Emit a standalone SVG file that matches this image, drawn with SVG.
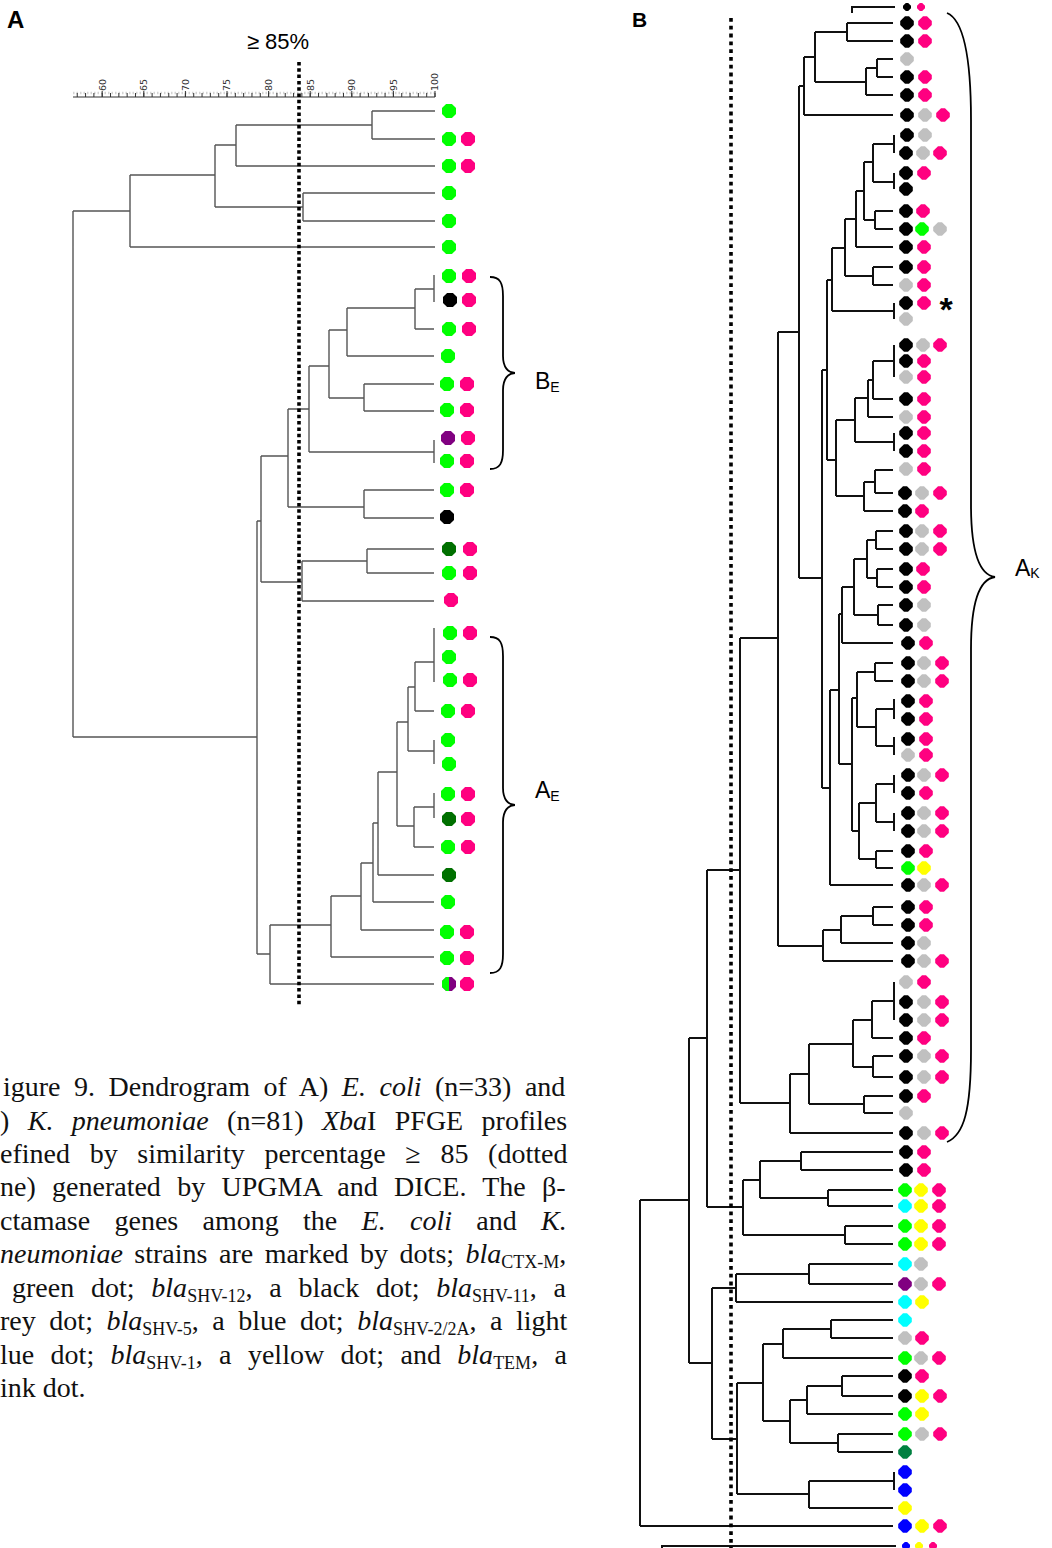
<svg xmlns="http://www.w3.org/2000/svg" xmlns:xlink="http://www.w3.org/1999/xlink" width="1052" height="1548" viewBox="0 0 1052 1548">
<style>
.ta{fill:none;stroke:#555;stroke-width:1.4}
.tb{fill:none;stroke:#111;stroke-width:2}
.dot{fill:none;stroke:#000;stroke-width:3.6}
.br{fill:none;stroke:#000;stroke-width:1.8}
.g{fill:#00ff00}.p{fill:#ff0080}.k{fill:#000}.u{fill:#800080}.d{fill:#007000}
.y{fill:#ffff00}.c{fill:#00ffff}.b{fill:#0000ff}.s{fill:#c0c0c0}.t{fill:#008040}
.lab{font-family:"Liberation Sans",Arial,sans-serif;fill:#000}
.sc{font-family:"DejaVu Sans","Liberation Sans",sans-serif;font-size:9.5px;fill:#333}
.cap{font-family:"Liberation Serif","Times New Roman",serif;font-size:28px;fill:#111}
</style>
<defs>
<polygon id="oa" points="-2.9,-7 2.9,-7 7,-2.9 7,2.9 2.9,7 -2.9,7 -7,2.9 -7,-2.9"/>
<polygon id="ob" points="-2,-6.8 2,-6.8 6.8,-2 6.8,2 2,6.8 -2,6.8 -6.8,2 -6.8,-2"/>
<polygon id="os" points="-1.2,-4 1.2,-4 4,-1.2 4,1.2 1.2,4 -1.2,4 -4,1.2 -4,-1.2"/>
<clipPath id="half" clipPathUnits="userSpaceOnUse"><rect x="440" y="975" width="9" height="18"/></clipPath>
</defs>
<rect width="1052" height="1548" fill="#fff"/>

<!-- Panel labels -->
<text class="lab" x="7" y="28" font-size="24" font-weight="bold">A</text>
<text class="lab" x="632" y="27" font-size="21" font-weight="bold">B</text>
<text class="lab" x="278" y="49" font-size="22" text-anchor="middle">≥ 85%</text>

<!-- Scale ruler A -->
<g id="ruler">
<line x1="73" y1="93" x2="435" y2="93" stroke="#d4d4d4" stroke-width="2.5" stroke-dasharray="1.5 2"/>
<line x1="73" y1="97" x2="435" y2="97" stroke="#333" stroke-width="1.2"/>
<line x1="435.5" y1="95" x2="73" y2="95" stroke="#333" stroke-width="4" stroke-dasharray="1 7.32"/>
<line x1="435.5" y1="94" x2="73" y2="94" stroke="#333" stroke-width="6" stroke-dasharray="1 40.6"/>
<text class="sc" transform="translate(105.5,91) rotate(-90)">60</text>
<text class="sc" transform="translate(147,91) rotate(-90)">65</text>
<text class="sc" transform="translate(188.5,91) rotate(-90)">70</text>
<text class="sc" transform="translate(230,91) rotate(-90)">75</text>
<text class="sc" transform="translate(272,91) rotate(-90)">80</text>
<text class="sc" transform="translate(313.5,91) rotate(-90)">85</text>
<text class="sc" transform="translate(355,91) rotate(-90)">90</text>
<text class="sc" transform="translate(396.5,91) rotate(-90)">95</text>
<text class="sc" transform="translate(438,91) rotate(-90)">100</text>
</g>

<!-- Connectors -->
<g id="connectors">
<path class="ta" d="M372,111V139M372,111H435M372,139H435
M236,125V166M236,125H372M236,166H435
M215,145V207M215,145H236M215,207H303
M303,193V221M303,193H435M303,221H435
M130,175V247M130,175H215M130,247H435
M73,211V737M73,211H130M73,737H257
M434,275V302
M415,289V329M415,289H434M415,329H434
M347,308V356M347,308H415M347,356H434
M364,384V411M364,384H434M364,411H434
M329,330V398M329,330H347M329,398H364
M434,440V463
M309,366V452M309,366H329M309,452H434
M288,409V507M288,409H309M288,507H364
M364,490V518M364,490H434M364,518H434
M261,456V582M261,456H288M261,582H302
M367,549V573M367,549H434M367,573H434
M302,561V601M302,561H367M302,601H434
M257,521V954M257,521H261M257,954H270
M270,925V984M270,984H434
M331,896V957M270,925H331M331,957H434
M361,863V930M331,896H361M361,930H434
M373,823V902M361,863H373M373,902H434
M378,772V875M373,823H378M378,875H434
M397,722V826M378,772H397
M414,807V847M397,826H414M414,847H434
M434,793V818M414,807H434
M408,687V751M397,722H408
M434,740V764M408,751H434
M415,662V711M408,687H415M415,711H434
M434,628V682M415,662H434"/>
<path class="tb" d="M852,13V7H895
M847,23V41M847,23H893M847,41H893
M877,59V77M877,59H893M877,77H893
M866,68V95M866,68H877M866,95H893
M815,32V82M815,32H847M815,82H866
M804,57V115M804,57H815M804,115H893
M799,86V578M799,86H804M799,578H822
M894,135V153M894,173V189
M873,144V182M873,144H894M873,182H894
M875,211V229M875,211H893M875,229H893
M864,162V220M864,162H873M864,220H875
M856,191V247M856,191H864M856,247H893
M873,267V285M873,267H893M873,285H893
M845,219V276M845,219H856M845,276H873
M894,303V319
M832,248V311M832,248H845M832,311H894
M827,280V460M827,280H832M827,460H836
M894,345V377
M873,361V399M873,361H894M873,399H893
M868,380V417M868,380H873M868,417H893
M894,433V451
M855,398V442M855,398H868M855,442H894
M875,470V493M875,470H893M875,493H893
M864,482V511M864,482H875M864,511H893
M836,420V496M836,420H855M836,496H864
M822,370V788M822,370H827M822,788H830
M876,531V549M876,531H893M876,549H893
M877,569V587M877,569H893M877,587H893
M867,540V578M867,540H876M867,578H877
M878,605V625M878,605H893M878,625H893
M854,559V615M854,559H867M854,615H878
M842,587V643M842,587H854M842,643H893
M839,614V764M839,614H842M839,764H852
M875,663V681M875,663H893M875,681H893
M894,699V719M894,737V755
M876,709V746M876,709H894M876,746H894
M857,672V727M857,672H875M857,727H876
M894,775V793M894,813V831
M876,784V822M876,784H894M876,822H894
M876,851V868M876,851H893M876,868H893
M859,803V859M859,803H876M859,859H876
M852,698V831M852,698H857M852,831H859
M830,690V885M830,690H839M830,885H893
M778,332V946M778,332H799M778,946H823
M873,907V925M873,907H893M873,925H893
M841,916V943M841,916H873M841,943H893
M823,930V961M823,930H841M823,961H893
M740,638V1103M740,638H778M740,1103H790
M894,982V1020
M872,1001V1038M872,1001H894M872,1038H893
M873,1056V1077M873,1056H893M873,1077H893
M853,1020V1067M853,1020H872M853,1067H873
M864,1096V1113M864,1096H893M864,1113H893
M809,1044V1104M809,1044H853M809,1104H864
M790,1074V1133M790,1074H809M790,1133H893
M707,870V1207M707,870H740M707,1207H743
M801,1152V1170M801,1152H893M801,1170H893
M828,1190V1206M828,1190H893M828,1206H893
M760,1161V1198M760,1161H801M760,1198H828
M845,1226V1244M845,1226H893M845,1244H893
M743,1180V1235M743,1180H760M743,1235H845
M689,1038V1363M689,1038H707M689,1363H712
M640,1200V1526M640,1200H689M640,1526H893
M809,1264V1284M809,1264H893M809,1284H893
M736,1274V1302M736,1274H809M736,1302H893
M712,1288V1439M712,1288H736M712,1439H737
M831,1320V1338M831,1320H893M831,1338H893
M783,1329V1358M783,1329H831M783,1358H893
M842,1376V1396M842,1376H893M842,1396H893
M807,1386V1414M807,1386H842M807,1414H893
M838,1434V1452M838,1434H893M838,1452H893
M790,1400V1443M790,1400H807M790,1443H838
M763,1344V1421M763,1344H783M763,1421H790
M894,1472V1490
M809,1481V1508M809,1481H894M809,1508H893
M737,1383V1494M737,1383H763M737,1494H809
M662,1548V1546H896"/>
<line class="dot" x1="299" y1="62" x2="299" y2="1007" stroke-dasharray="3.5 2.8"/>
<line class="dot" x1="731" y1="18" x2="731" y2="1548" stroke-dasharray="3.8 4"/>
</g>

<!-- Brackets and cluster labels -->
<g id="cluster-BE">
<path class="br" d="M490,277C500,277 503,283 503,296L503,356C503,367 508,373 515,373C508,373 503,379 503,390L503,450C503,463 500,469 490,469"/>
<text class="lab" x="535" y="389" font-size="23">B<tspan font-size="14" dy="3">E</tspan></text>
</g>
<g id="cluster-AE">
<path class="br" d="M490,637C500,637 503,643 503,656L503,788C503,799 508,805 515,805C508,805 503,811 503,822L503,954C503,967 500,973 490,973"/>
<text class="lab" x="535" y="798" font-size="23">A<tspan font-size="14" dy="3">E</tspan></text>
</g>
<g id="cluster-AK">
<path class="br" d="M947,13C964,20 971,60 971,120L971,505C971,552 980,575 995,577C980,579 971,602 971,649L971,1050C971,1110 964,1135 947,1142"/>
<text class="lab" x="1015" y="576" font-size="23">A<tspan font-size="14" dy="2">K</tspan></text>
</g>

<!-- Panel A leaves -->
<g id="a1"><use href="#oa" x="449" y="111" class="g"/></g>
<g id="a2"><use href="#oa" x="449" y="139" class="g"/><use href="#oa" x="468" y="139" class="p"/></g>
<g id="a3"><use href="#oa" x="449" y="166" class="g"/><use href="#oa" x="468" y="166" class="p"/></g>
<g id="a4"><use href="#oa" x="449" y="193" class="g"/></g>
<g id="a5"><use href="#oa" x="449" y="221" class="g"/></g>
<g id="a6"><use href="#oa" x="449" y="247" class="g"/></g>
<g id="a7"><use href="#oa" x="449" y="276" class="g"/><use href="#oa" x="469" y="276" class="p"/></g>
<g id="a8"><use href="#oa" x="450" y="300" class="k"/><use href="#oa" x="469" y="300" class="p"/></g>
<g id="a9"><use href="#oa" x="449" y="329" class="g"/><use href="#oa" x="469" y="329" class="p"/></g>
<g id="a10"><use href="#oa" x="448" y="356" class="g"/></g>
<g id="a11"><use href="#oa" x="447" y="384" class="g"/><use href="#oa" x="467" y="384" class="p"/></g>
<g id="a12"><use href="#oa" x="447" y="410" class="g"/><use href="#oa" x="467" y="410" class="p"/></g>
<g id="a13"><use href="#oa" x="448" y="438" class="u"/><use href="#oa" x="468" y="438" class="p"/></g>
<g id="a14"><use href="#oa" x="447" y="461" class="g"/><use href="#oa" x="467" y="461" class="p"/></g>
<g id="a15"><use href="#oa" x="447" y="490" class="g"/><use href="#oa" x="467" y="490" class="p"/></g>
<g id="a16"><use href="#oa" x="447" y="517" class="k"/></g>
<g id="a17"><use href="#oa" x="449" y="549" class="d"/><use href="#oa" x="470" y="549" class="p"/></g>
<g id="a18"><use href="#oa" x="449" y="573" class="g"/><use href="#oa" x="470" y="573" class="p"/></g>
<g id="a19"><use href="#oa" x="451" y="600" class="p"/></g>
<g id="a20"><use href="#oa" x="450" y="633" class="g"/><use href="#oa" x="470" y="633" class="p"/></g>
<g id="a21"><use href="#oa" x="449" y="657" class="g"/></g>
<g id="a22"><use href="#oa" x="450" y="680" class="g"/><use href="#oa" x="470" y="680" class="p"/></g>
<g id="a23"><use href="#oa" x="448" y="711" class="g"/><use href="#oa" x="468" y="711" class="p"/></g>
<g id="a24"><use href="#oa" x="448" y="740" class="g"/></g>
<g id="a25"><use href="#oa" x="449" y="764" class="g"/></g>
<g id="a26"><use href="#oa" x="448" y="794" class="g"/><use href="#oa" x="468" y="794" class="p"/></g>
<g id="a27"><use href="#oa" x="449" y="819" class="d"/><use href="#oa" x="468" y="819" class="p"/></g>
<g id="a28"><use href="#oa" x="448" y="847" class="g"/><use href="#oa" x="468" y="847" class="p"/></g>
<g id="a29"><use href="#oa" x="449" y="875" class="d"/></g>
<g id="a30"><use href="#oa" x="448" y="902" class="g"/></g>
<g id="a31"><use href="#oa" x="447" y="932" class="g"/><use href="#oa" x="467" y="932" class="p"/></g>
<g id="a32"><use href="#oa" x="447" y="958" class="g"/><use href="#oa" x="467" y="958" class="p"/></g>
<g id="a33"><use href="#oa" x="449" y="984" class="u"/><g clip-path="url(#half)"><use href="#oa" x="449" y="984" class="g"/></g><use href="#oa" x="467" y="984" class="p"/></g>

<!-- Panel B leaves -->
<g id="b1"><use href="#os" x="907" y="7" class="k"/><use href="#os" x="921" y="7" class="p"/></g>
<g id="b2"><use href="#ob" x="907" y="23" class="k"/><use href="#ob" x="925" y="23" class="p"/></g>
<g id="b3"><use href="#ob" x="907" y="41" class="k"/><use href="#ob" x="925" y="41" class="p"/></g>
<g id="b4"><use href="#ob" x="907" y="59" class="s"/></g>
<g id="b5"><use href="#ob" x="907" y="77" class="k"/><use href="#ob" x="925" y="77" class="p"/></g>
<g id="b6"><use href="#ob" x="907" y="95" class="k"/><use href="#ob" x="925" y="95" class="p"/></g>
<g id="b7"><use href="#ob" x="907" y="115" class="k"/><use href="#ob" x="925" y="115" class="s"/><use href="#ob" x="943" y="115" class="p"/></g>
<g id="b8"><use href="#ob" x="907" y="135" class="k"/><use href="#ob" x="925" y="135" class="s"/></g>
<g id="b9"><use href="#ob" x="906" y="153" class="k"/><use href="#ob" x="923" y="153" class="s"/><use href="#ob" x="940" y="153" class="p"/></g>
<g id="b10"><use href="#ob" x="906" y="173" class="k"/><use href="#ob" x="924" y="173" class="p"/></g>
<g id="b11"><use href="#ob" x="906" y="189" class="k"/></g>
<g id="b12"><use href="#ob" x="906" y="211" class="k"/><use href="#ob" x="923" y="211" class="p"/></g>
<g id="b13"><use href="#ob" x="906" y="229" class="k"/><use href="#ob" x="922" y="229" class="g"/><use href="#ob" x="940" y="229" class="s"/></g>
<g id="b14"><use href="#ob" x="906" y="247" class="k"/><use href="#ob" x="924" y="247" class="p"/></g>
<g id="b15"><use href="#ob" x="906" y="267" class="k"/><use href="#ob" x="924" y="267" class="p"/></g>
<g id="b16"><use href="#ob" x="906" y="285" class="s"/><use href="#ob" x="924" y="285" class="p"/></g>
<g id="b17"><use href="#ob" x="906" y="303" class="k"/><use href="#ob" x="924" y="303" class="p"/><text class="lab" x="946" y="321" font-size="34" font-weight="bold" fill="#333" text-anchor="middle">*</text></g>
<g id="b18"><use href="#ob" x="906" y="319" class="s"/></g>
<g id="b19"><use href="#ob" x="906" y="345" class="k"/><use href="#ob" x="923" y="345" class="s"/><use href="#ob" x="940" y="345" class="p"/></g>
<g id="b20"><use href="#ob" x="906" y="361" class="k"/><use href="#ob" x="924" y="361" class="p"/></g>
<g id="b21"><use href="#ob" x="906" y="377" class="s"/><use href="#ob" x="924" y="377" class="p"/></g>
<g id="b22"><use href="#ob" x="906" y="399" class="k"/><use href="#ob" x="924" y="399" class="p"/></g>
<g id="b23"><use href="#ob" x="906" y="417" class="s"/><use href="#ob" x="924" y="417" class="p"/></g>
<g id="b24"><use href="#ob" x="906" y="433" class="k"/><use href="#ob" x="924" y="433" class="p"/></g>
<g id="b25"><use href="#ob" x="906" y="451" class="k"/><use href="#ob" x="924" y="451" class="p"/></g>
<g id="b26"><use href="#ob" x="906" y="469" class="s"/><use href="#ob" x="924" y="469" class="p"/></g>
<g id="b27"><use href="#ob" x="905" y="493" class="k"/><use href="#ob" x="922" y="493" class="s"/><use href="#ob" x="940" y="493" class="p"/></g>
<g id="b28"><use href="#ob" x="905" y="511" class="k"/><use href="#ob" x="922" y="511" class="p"/></g>
<g id="b29"><use href="#ob" x="906" y="531" class="k"/><use href="#ob" x="922" y="531" class="s"/><use href="#ob" x="940" y="531" class="p"/></g>
<g id="b30"><use href="#ob" x="906" y="549" class="k"/><use href="#ob" x="922" y="549" class="s"/><use href="#ob" x="940" y="549" class="p"/></g>
<g id="b31"><use href="#ob" x="906" y="569" class="k"/><use href="#ob" x="923" y="569" class="p"/></g>
<g id="b32"><use href="#ob" x="906" y="587" class="k"/><use href="#ob" x="924" y="587" class="p"/></g>
<g id="b33"><use href="#ob" x="906" y="605" class="k"/><use href="#ob" x="924" y="605" class="s"/></g>
<g id="b34"><use href="#ob" x="906" y="625" class="k"/><use href="#ob" x="924" y="625" class="s"/></g>
<g id="b35"><use href="#ob" x="908" y="643" class="k"/><use href="#ob" x="926" y="643" class="p"/></g>
<g id="b36"><use href="#ob" x="908" y="663" class="k"/><use href="#ob" x="924" y="663" class="s"/><use href="#ob" x="942" y="663" class="p"/></g>
<g id="b37"><use href="#ob" x="908" y="681" class="k"/><use href="#ob" x="924" y="681" class="s"/><use href="#ob" x="942" y="681" class="p"/></g>
<g id="b38"><use href="#ob" x="908" y="701" class="k"/><use href="#ob" x="926" y="701" class="p"/></g>
<g id="b39"><use href="#ob" x="908" y="719" class="k"/><use href="#ob" x="926" y="719" class="p"/></g>
<g id="b40"><use href="#ob" x="908" y="739" class="k"/><use href="#ob" x="926" y="739" class="p"/></g>
<g id="b41"><use href="#ob" x="908" y="755" class="s"/><use href="#ob" x="926" y="755" class="p"/></g>
<g id="b42"><use href="#ob" x="908" y="775" class="k"/><use href="#ob" x="924" y="775" class="s"/><use href="#ob" x="942" y="775" class="p"/></g>
<g id="b43"><use href="#ob" x="908" y="793" class="k"/><use href="#ob" x="926" y="793" class="p"/></g>
<g id="b44"><use href="#ob" x="908" y="813" class="k"/><use href="#ob" x="924" y="813" class="s"/><use href="#ob" x="942" y="813" class="p"/></g>
<g id="b45"><use href="#ob" x="908" y="831" class="k"/><use href="#ob" x="924" y="831" class="s"/><use href="#ob" x="942" y="831" class="p"/></g>
<g id="b46"><use href="#ob" x="908" y="851" class="k"/><use href="#ob" x="926" y="851" class="p"/></g>
<g id="b47"><use href="#ob" x="908" y="868" class="g"/><use href="#ob" x="924" y="868" class="y"/></g>
<g id="b48"><use href="#ob" x="908" y="885" class="k"/><use href="#ob" x="924" y="885" class="s"/><use href="#ob" x="942" y="885" class="p"/></g>
<g id="b49"><use href="#ob" x="908" y="907" class="k"/><use href="#ob" x="926" y="907" class="p"/></g>
<g id="b50"><use href="#ob" x="908" y="925" class="k"/><use href="#ob" x="926" y="925" class="p"/></g>
<g id="b51"><use href="#ob" x="908" y="943" class="k"/><use href="#ob" x="924" y="943" class="s"/></g>
<g id="b52"><use href="#ob" x="908" y="961" class="k"/><use href="#ob" x="924" y="961" class="s"/><use href="#ob" x="942" y="961" class="p"/></g>
<g id="b53"><use href="#ob" x="906" y="982" class="s"/><use href="#ob" x="924" y="982" class="p"/></g>
<g id="b54"><use href="#ob" x="906" y="1002" class="k"/><use href="#ob" x="924" y="1002" class="s"/><use href="#ob" x="942" y="1002" class="p"/></g>
<g id="b55"><use href="#ob" x="906" y="1020" class="k"/><use href="#ob" x="924" y="1020" class="s"/><use href="#ob" x="942" y="1020" class="p"/></g>
<g id="b56"><use href="#ob" x="906" y="1038" class="k"/><use href="#ob" x="924" y="1038" class="p"/></g>
<g id="b57"><use href="#ob" x="906" y="1056" class="k"/><use href="#ob" x="924" y="1056" class="s"/><use href="#ob" x="942" y="1056" class="p"/></g>
<g id="b58"><use href="#ob" x="906" y="1077" class="k"/><use href="#ob" x="924" y="1077" class="s"/><use href="#ob" x="942" y="1077" class="p"/></g>
<g id="b59"><use href="#ob" x="906" y="1096" class="k"/><use href="#ob" x="924" y="1096" class="p"/></g>
<g id="b60"><use href="#ob" x="906" y="1113" class="s"/></g>
<g id="b61"><use href="#ob" x="906" y="1133" class="k"/><use href="#ob" x="924" y="1133" class="s"/><use href="#ob" x="942" y="1133" class="p"/></g>
<g id="b62"><use href="#ob" x="906" y="1152" class="k"/><use href="#ob" x="924" y="1152" class="p"/></g>
<g id="b63"><use href="#ob" x="906" y="1170" class="k"/><use href="#ob" x="924" y="1170" class="p"/></g>
<g id="b64"><use href="#ob" x="905" y="1190" class="g"/><use href="#ob" x="921" y="1190" class="y"/><use href="#ob" x="939" y="1190" class="p"/></g>
<g id="b65"><use href="#ob" x="905" y="1206" class="c"/><use href="#ob" x="921" y="1206" class="y"/><use href="#ob" x="939" y="1206" class="p"/></g>
<g id="b66"><use href="#ob" x="905" y="1226" class="g"/><use href="#ob" x="921" y="1226" class="y"/><use href="#ob" x="939" y="1226" class="p"/></g>
<g id="b67"><use href="#ob" x="905" y="1244" class="g"/><use href="#ob" x="921" y="1244" class="y"/><use href="#ob" x="939" y="1244" class="p"/></g>
<g id="b68"><use href="#ob" x="905" y="1264" class="c"/><use href="#ob" x="921" y="1264" class="s"/></g>
<g id="b69"><use href="#ob" x="905" y="1284" class="u"/><use href="#ob" x="921" y="1284" class="s"/><use href="#ob" x="939" y="1284" class="p"/></g>
<g id="b70"><use href="#ob" x="905" y="1302" class="c"/><use href="#ob" x="922" y="1302" class="y"/></g>
<g id="b71"><use href="#ob" x="905" y="1320" class="c"/></g>
<g id="b72"><use href="#ob" x="905" y="1338" class="s"/><use href="#ob" x="922" y="1338" class="p"/></g>
<g id="b73"><use href="#ob" x="905" y="1358" class="g"/><use href="#ob" x="921" y="1358" class="s"/><use href="#ob" x="939" y="1358" class="p"/></g>
<g id="b74"><use href="#ob" x="905" y="1376" class="k"/><use href="#ob" x="922" y="1376" class="p"/></g>
<g id="b75"><use href="#ob" x="905" y="1396" class="k"/><use href="#ob" x="922" y="1396" class="y"/><use href="#ob" x="940" y="1396" class="p"/></g>
<g id="b76"><use href="#ob" x="905" y="1414" class="g"/><use href="#ob" x="922" y="1414" class="y"/></g>
<g id="b77"><use href="#ob" x="905" y="1434" class="g"/><use href="#ob" x="922" y="1434" class="s"/><use href="#ob" x="940" y="1434" class="p"/></g>
<g id="b78"><use href="#ob" x="905" y="1452" class="t"/></g>
<g id="b79"><use href="#ob" x="905" y="1472" class="b"/></g>
<g id="b80"><use href="#ob" x="905" y="1490" class="b"/></g>
<g id="b81"><use href="#ob" x="905" y="1508" class="y"/></g>
<g id="b82"><use href="#ob" x="905" y="1526" class="b"/><use href="#ob" x="922" y="1526" class="y"/><use href="#ob" x="940" y="1526" class="p"/></g>
<g id="b83"><use href="#os" x="906" y="1546" class="b"/><use href="#os" x="919" y="1546" class="y"/><use href="#os" x="933" y="1546" class="p"/></g>

<!-- Caption -->
<g id="caption">
<text class="cap" x="3" y="1096" word-spacing="6.5">igure 9. Dendrogram of A) <tspan font-style="italic">E. coli</tspan> (n=33) and</text>
<text class="cap" x="0" y="1130" word-spacing="11.4">) <tspan font-style="italic">K. pneumoniae</tspan> (n=81) <tspan font-style="italic">Xba</tspan>I PFGE profiles</text>
<text class="cap" x="0" y="1163" word-spacing="12.7">efined by similarity percentage ≥ 85 (dotted</text>
<text class="cap" x="0" y="1196" word-spacing="9.3">ne) generated by UPGMA and DICE. The β-</text>
<text class="cap" x="0" y="1230" word-spacing="17.3">ctamase genes among the <tspan font-style="italic">E. coli</tspan> and <tspan font-style="italic">K.</tspan></text>
<text class="cap" x="0" y="1263" word-spacing="4.5"><tspan font-style="italic">neumoniae</tspan> strains are marked by dots; <tspan font-style="italic">bla</tspan><tspan font-size="18" dy="5">CTX-M</tspan><tspan dy="-5">,</tspan></text>
<text class="cap" x="12" y="1297" word-spacing="9.8">green dot; <tspan font-style="italic">bla</tspan><tspan font-size="18" dy="5">SHV-12</tspan><tspan dy="-5">, a black dot; </tspan><tspan font-style="italic">bla</tspan><tspan font-size="18" dy="5">SHV-11</tspan><tspan dy="-5">, a</tspan></text>
<text class="cap" x="0" y="1330" word-spacing="6.6">rey dot; <tspan font-style="italic">bla</tspan><tspan font-size="18" dy="5">SHV-5</tspan><tspan dy="-5">, a blue dot; </tspan><tspan font-style="italic">bla</tspan><tspan font-size="18" dy="5">SHV-2/2A</tspan><tspan dy="-5">, a light</tspan></text>
<text class="cap" x="0" y="1364" word-spacing="9.4">lue dot; <tspan font-style="italic">bla</tspan><tspan font-size="18" dy="5">SHV-1</tspan><tspan dy="-5">, a yellow dot; and </tspan><tspan font-style="italic">bla</tspan><tspan font-size="18" dy="5">TEM</tspan><tspan dy="-5">, a</tspan></text>
<text class="cap" x="0" y="1397">ink dot.</text>
</g>
</svg>
